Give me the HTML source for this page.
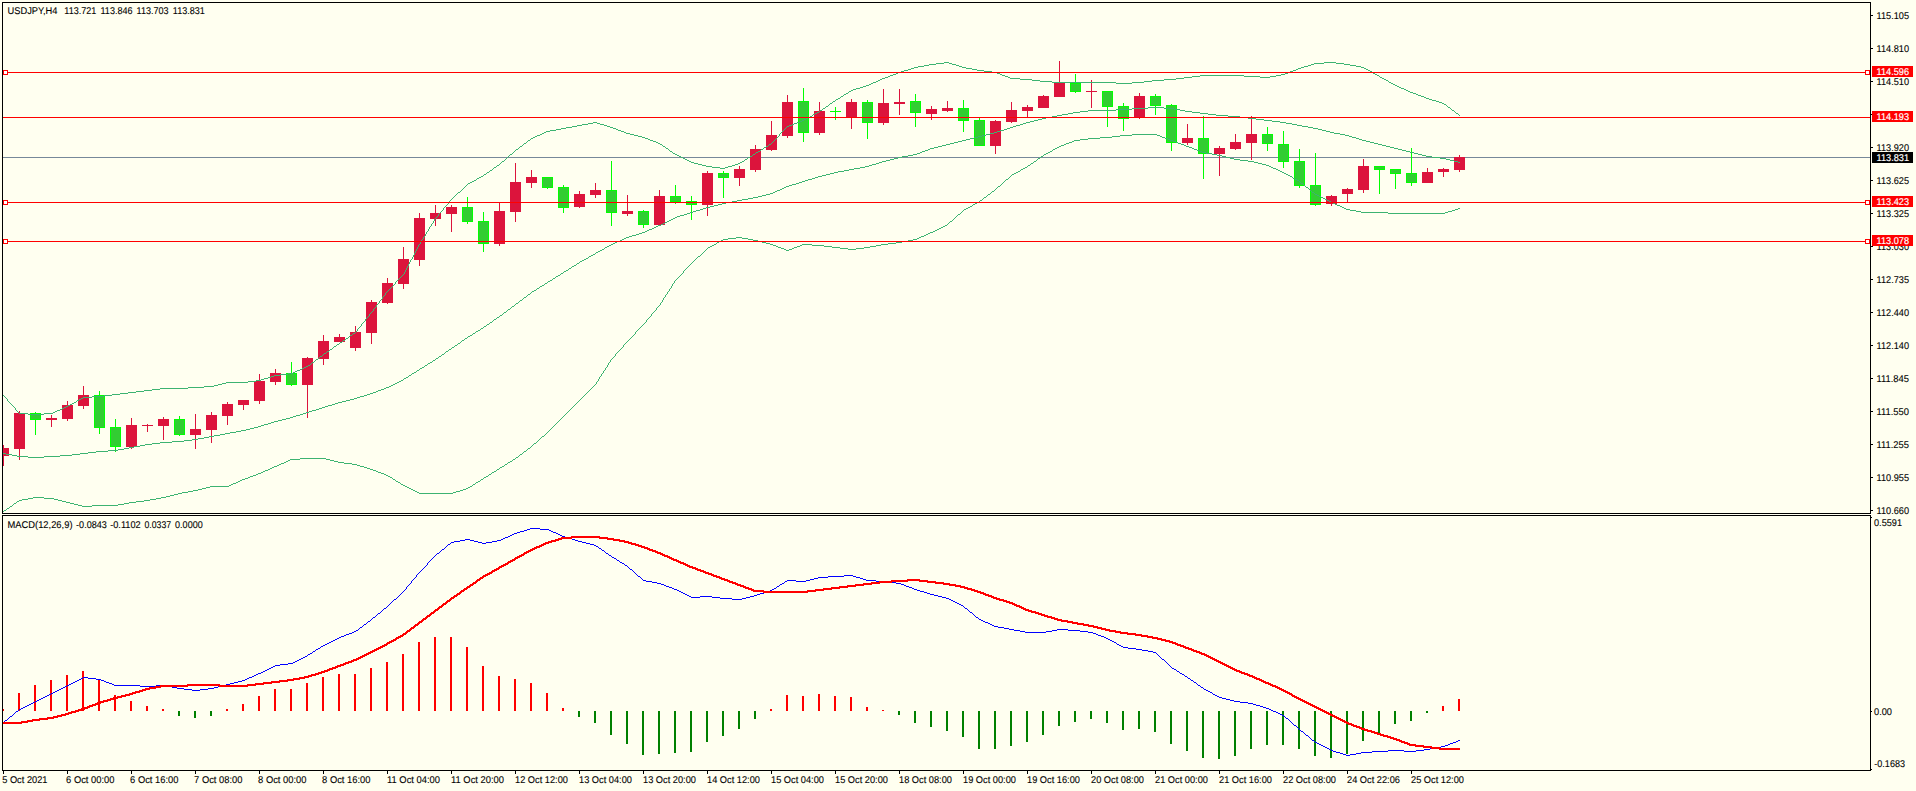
<!DOCTYPE html>
<html lang="en"><head><meta charset="utf-8"><title>USDJPY,H4</title>
<style>html,body{margin:0;padding:0;background:#FFFFF0;overflow:hidden}svg text{white-space:pre}</style></head>
<body>
<svg width="1916" height="791" viewBox="0 0 1916 791" style="display:block" font-family="'Liberation Sans', sans-serif" font-size="9.8" text-rendering="geometricPrecision">
<rect width="1916" height="791" fill="#FFFFF0"/>
<defs><clipPath id="cm"><rect x="3" y="3" width="1867" height="510"/></clipPath><clipPath id="cs"><rect x="3" y="516" width="1867" height="254"/></clipPath></defs>
<g clip-path="url(#cm)" shape-rendering="crispEdges">
<rect x="3" y="157" width="1867" height="1" fill="#778899"/>
<rect x="3" y="445" width="1" height="21" fill="#DC143C"/>
<rect x="-2" y="448" width="11" height="8" fill="#DC143C"/>
<rect x="19" y="411" width="1" height="49" fill="#DC143C"/>
<rect x="14" y="413" width="11" height="36" fill="#DC143C"/>
<rect x="35" y="412" width="1" height="23" fill="#00FF00"/>
<rect x="30" y="413" width="11" height="7" fill="#00FF00"/>
<rect x="31" y="414" width="9" height="5" fill="#32CD32"/>
<rect x="51" y="415" width="1" height="12" fill="#DC143C"/>
<rect x="46" y="418" width="11" height="2" fill="#DC143C"/>
<rect x="67" y="401" width="1" height="20" fill="#DC143C"/>
<rect x="62" y="405" width="11" height="14" fill="#DC143C"/>
<rect x="83" y="386" width="1" height="23" fill="#DC143C"/>
<rect x="78" y="395" width="11" height="11" fill="#DC143C"/>
<rect x="99" y="391" width="1" height="43" fill="#00FF00"/>
<rect x="94" y="395" width="11" height="33" fill="#00FF00"/>
<rect x="95" y="396" width="9" height="31" fill="#32CD32"/>
<rect x="115" y="419" width="1" height="33" fill="#00FF00"/>
<rect x="110" y="427" width="11" height="20" fill="#00FF00"/>
<rect x="111" y="428" width="9" height="18" fill="#32CD32"/>
<rect x="131" y="418" width="1" height="31" fill="#DC143C"/>
<rect x="126" y="425" width="11" height="22" fill="#DC143C"/>
<rect x="147" y="424" width="1" height="8" fill="#DC143C"/>
<rect x="142" y="425" width="11" height="1" fill="#DC143C"/>
<rect x="163" y="417" width="1" height="23" fill="#DC143C"/>
<rect x="158" y="419" width="11" height="7" fill="#DC143C"/>
<rect x="179" y="416" width="1" height="20" fill="#00FF00"/>
<rect x="174" y="419" width="11" height="16" fill="#00FF00"/>
<rect x="175" y="420" width="9" height="14" fill="#32CD32"/>
<rect x="195" y="414" width="1" height="35" fill="#DC143C"/>
<rect x="190" y="429" width="11" height="6" fill="#DC143C"/>
<rect x="211" y="412" width="1" height="31" fill="#DC143C"/>
<rect x="206" y="415" width="11" height="15" fill="#DC143C"/>
<rect x="227" y="402" width="1" height="23" fill="#DC143C"/>
<rect x="222" y="404" width="11" height="12" fill="#DC143C"/>
<rect x="243" y="400" width="1" height="10" fill="#DC143C"/>
<rect x="238" y="400" width="11" height="5" fill="#DC143C"/>
<rect x="259" y="374" width="1" height="30" fill="#DC143C"/>
<rect x="254" y="381" width="11" height="20" fill="#DC143C"/>
<rect x="275" y="369" width="1" height="16" fill="#DC143C"/>
<rect x="270" y="373" width="11" height="9" fill="#DC143C"/>
<rect x="291" y="362" width="1" height="24" fill="#00FF00"/>
<rect x="286" y="373" width="11" height="12" fill="#00FF00"/>
<rect x="287" y="374" width="9" height="10" fill="#32CD32"/>
<rect x="307" y="357" width="1" height="61" fill="#DC143C"/>
<rect x="302" y="358" width="11" height="27" fill="#DC143C"/>
<rect x="323" y="335" width="1" height="30" fill="#DC143C"/>
<rect x="318" y="341" width="11" height="18" fill="#DC143C"/>
<rect x="339" y="334" width="1" height="8" fill="#DC143C"/>
<rect x="334" y="337" width="11" height="5" fill="#DC143C"/>
<rect x="355" y="326" width="1" height="25" fill="#DC143C"/>
<rect x="350" y="332" width="11" height="16" fill="#DC143C"/>
<rect x="371" y="300" width="1" height="44" fill="#DC143C"/>
<rect x="366" y="302" width="11" height="31" fill="#DC143C"/>
<rect x="387" y="278" width="1" height="26" fill="#DC143C"/>
<rect x="382" y="283" width="11" height="20" fill="#DC143C"/>
<rect x="403" y="247" width="1" height="42" fill="#DC143C"/>
<rect x="398" y="259" width="11" height="25" fill="#DC143C"/>
<rect x="419" y="213" width="1" height="53" fill="#DC143C"/>
<rect x="414" y="218" width="11" height="42" fill="#DC143C"/>
<rect x="435" y="205" width="1" height="21" fill="#DC143C"/>
<rect x="430" y="213" width="11" height="6" fill="#DC143C"/>
<rect x="451" y="205" width="1" height="27" fill="#DC143C"/>
<rect x="446" y="207" width="11" height="7" fill="#DC143C"/>
<rect x="467" y="197" width="1" height="27" fill="#00FF00"/>
<rect x="462" y="207" width="11" height="15" fill="#00FF00"/>
<rect x="463" y="208" width="9" height="13" fill="#32CD32"/>
<rect x="483" y="212" width="1" height="40" fill="#00FF00"/>
<rect x="478" y="221" width="11" height="23" fill="#00FF00"/>
<rect x="479" y="222" width="9" height="21" fill="#32CD32"/>
<rect x="499" y="203" width="1" height="43" fill="#DC143C"/>
<rect x="494" y="211" width="11" height="33" fill="#DC143C"/>
<rect x="515" y="163" width="1" height="59" fill="#DC143C"/>
<rect x="510" y="182" width="11" height="30" fill="#DC143C"/>
<rect x="531" y="170" width="1" height="18" fill="#DC143C"/>
<rect x="526" y="177" width="11" height="6" fill="#DC143C"/>
<rect x="547" y="177" width="1" height="12" fill="#00FF00"/>
<rect x="542" y="177" width="11" height="11" fill="#00FF00"/>
<rect x="543" y="178" width="9" height="9" fill="#32CD32"/>
<rect x="563" y="185" width="1" height="28" fill="#00FF00"/>
<rect x="558" y="187" width="11" height="21" fill="#00FF00"/>
<rect x="559" y="188" width="9" height="19" fill="#32CD32"/>
<rect x="579" y="191" width="1" height="17" fill="#DC143C"/>
<rect x="574" y="194" width="11" height="13" fill="#DC143C"/>
<rect x="595" y="183" width="1" height="15" fill="#DC143C"/>
<rect x="590" y="190" width="11" height="5" fill="#DC143C"/>
<rect x="611" y="161" width="1" height="65" fill="#00FF00"/>
<rect x="606" y="190" width="11" height="23" fill="#00FF00"/>
<rect x="607" y="191" width="9" height="21" fill="#32CD32"/>
<rect x="627" y="195" width="1" height="21" fill="#DC143C"/>
<rect x="622" y="211" width="11" height="3" fill="#DC143C"/>
<rect x="643" y="210" width="1" height="18" fill="#00FF00"/>
<rect x="638" y="211" width="11" height="14" fill="#00FF00"/>
<rect x="639" y="212" width="9" height="12" fill="#32CD32"/>
<rect x="659" y="190" width="1" height="35" fill="#DC143C"/>
<rect x="654" y="196" width="11" height="29" fill="#DC143C"/>
<rect x="675" y="185" width="1" height="19" fill="#00FF00"/>
<rect x="670" y="196" width="11" height="6" fill="#00FF00"/>
<rect x="671" y="197" width="9" height="4" fill="#32CD32"/>
<rect x="691" y="196" width="1" height="24" fill="#00FF00"/>
<rect x="686" y="201" width="11" height="4" fill="#00FF00"/>
<rect x="687" y="202" width="9" height="2" fill="#32CD32"/>
<rect x="707" y="171" width="1" height="45" fill="#DC143C"/>
<rect x="702" y="173" width="11" height="32" fill="#DC143C"/>
<rect x="723" y="171" width="1" height="27" fill="#00FF00"/>
<rect x="718" y="173" width="11" height="5" fill="#00FF00"/>
<rect x="719" y="174" width="9" height="3" fill="#32CD32"/>
<rect x="739" y="166" width="1" height="20" fill="#DC143C"/>
<rect x="734" y="169" width="11" height="9" fill="#DC143C"/>
<rect x="755" y="145" width="1" height="27" fill="#DC143C"/>
<rect x="750" y="149" width="11" height="21" fill="#DC143C"/>
<rect x="771" y="121" width="1" height="30" fill="#DC143C"/>
<rect x="766" y="135" width="11" height="15" fill="#DC143C"/>
<rect x="787" y="95" width="1" height="43" fill="#DC143C"/>
<rect x="782" y="102" width="11" height="34" fill="#DC143C"/>
<rect x="803" y="88" width="1" height="54" fill="#00FF00"/>
<rect x="798" y="101" width="11" height="32" fill="#00FF00"/>
<rect x="799" y="102" width="9" height="30" fill="#32CD32"/>
<rect x="819" y="102" width="1" height="33" fill="#DC143C"/>
<rect x="814" y="111" width="11" height="22" fill="#DC143C"/>
<rect x="835" y="107" width="1" height="13" fill="#00FF00"/>
<rect x="830" y="111" width="11" height="1" fill="#00FF00"/>
<rect x="851" y="99" width="1" height="30" fill="#DC143C"/>
<rect x="846" y="102" width="11" height="16" fill="#DC143C"/>
<rect x="867" y="100" width="1" height="39" fill="#00FF00"/>
<rect x="862" y="102" width="11" height="21" fill="#00FF00"/>
<rect x="863" y="103" width="9" height="19" fill="#32CD32"/>
<rect x="883" y="89" width="1" height="36" fill="#DC143C"/>
<rect x="878" y="103" width="11" height="20" fill="#DC143C"/>
<rect x="899" y="89" width="1" height="26" fill="#DC143C"/>
<rect x="894" y="102" width="11" height="2" fill="#DC143C"/>
<rect x="915" y="94" width="1" height="33" fill="#00FF00"/>
<rect x="910" y="101" width="11" height="12" fill="#00FF00"/>
<rect x="911" y="102" width="9" height="10" fill="#32CD32"/>
<rect x="931" y="106" width="1" height="14" fill="#DC143C"/>
<rect x="926" y="109" width="11" height="5" fill="#DC143C"/>
<rect x="947" y="101" width="1" height="11" fill="#DC143C"/>
<rect x="942" y="108" width="11" height="3" fill="#DC143C"/>
<rect x="963" y="100" width="1" height="32" fill="#00FF00"/>
<rect x="958" y="108" width="11" height="13" fill="#00FF00"/>
<rect x="959" y="109" width="9" height="11" fill="#32CD32"/>
<rect x="979" y="118" width="1" height="28" fill="#00FF00"/>
<rect x="974" y="120" width="11" height="26" fill="#00FF00"/>
<rect x="975" y="121" width="9" height="24" fill="#32CD32"/>
<rect x="995" y="120" width="1" height="34" fill="#DC143C"/>
<rect x="990" y="121" width="11" height="25" fill="#DC143C"/>
<rect x="1011" y="102" width="1" height="21" fill="#DC143C"/>
<rect x="1006" y="110" width="11" height="12" fill="#DC143C"/>
<rect x="1027" y="105" width="1" height="12" fill="#DC143C"/>
<rect x="1022" y="107" width="11" height="4" fill="#DC143C"/>
<rect x="1043" y="95" width="1" height="13" fill="#DC143C"/>
<rect x="1038" y="96" width="11" height="12" fill="#DC143C"/>
<rect x="1059" y="61" width="1" height="36" fill="#DC143C"/>
<rect x="1054" y="83" width="11" height="14" fill="#DC143C"/>
<rect x="1075" y="74" width="1" height="19" fill="#00FF00"/>
<rect x="1070" y="83" width="11" height="9" fill="#00FF00"/>
<rect x="1071" y="84" width="9" height="7" fill="#32CD32"/>
<rect x="1091" y="80" width="1" height="28" fill="#DC143C"/>
<rect x="1086" y="91" width="11" height="1" fill="#DC143C"/>
<rect x="1107" y="91" width="1" height="36" fill="#00FF00"/>
<rect x="1102" y="91" width="11" height="16" fill="#00FF00"/>
<rect x="1103" y="92" width="9" height="14" fill="#32CD32"/>
<rect x="1123" y="103" width="1" height="28" fill="#00FF00"/>
<rect x="1118" y="106" width="11" height="13" fill="#00FF00"/>
<rect x="1119" y="107" width="9" height="11" fill="#32CD32"/>
<rect x="1139" y="93" width="1" height="26" fill="#DC143C"/>
<rect x="1134" y="96" width="11" height="22" fill="#DC143C"/>
<rect x="1155" y="94" width="1" height="21" fill="#00FF00"/>
<rect x="1150" y="96" width="11" height="10" fill="#00FF00"/>
<rect x="1151" y="97" width="9" height="8" fill="#32CD32"/>
<rect x="1171" y="104" width="1" height="47" fill="#00FF00"/>
<rect x="1166" y="105" width="11" height="38" fill="#00FF00"/>
<rect x="1167" y="106" width="9" height="36" fill="#32CD32"/>
<rect x="1187" y="124" width="1" height="21" fill="#DC143C"/>
<rect x="1182" y="138" width="11" height="5" fill="#DC143C"/>
<rect x="1203" y="116" width="1" height="63" fill="#00FF00"/>
<rect x="1198" y="138" width="11" height="16" fill="#00FF00"/>
<rect x="1199" y="139" width="9" height="14" fill="#32CD32"/>
<rect x="1219" y="146" width="1" height="30" fill="#DC143C"/>
<rect x="1214" y="148" width="11" height="6" fill="#DC143C"/>
<rect x="1235" y="134" width="1" height="16" fill="#DC143C"/>
<rect x="1230" y="142" width="11" height="7" fill="#DC143C"/>
<rect x="1251" y="116" width="1" height="44" fill="#DC143C"/>
<rect x="1246" y="134" width="11" height="9" fill="#DC143C"/>
<rect x="1267" y="127" width="1" height="24" fill="#00FF00"/>
<rect x="1262" y="134" width="11" height="10" fill="#00FF00"/>
<rect x="1263" y="135" width="9" height="8" fill="#32CD32"/>
<rect x="1283" y="131" width="1" height="37" fill="#00FF00"/>
<rect x="1278" y="144" width="11" height="18" fill="#00FF00"/>
<rect x="1279" y="145" width="9" height="16" fill="#32CD32"/>
<rect x="1299" y="149" width="1" height="39" fill="#00FF00"/>
<rect x="1294" y="161" width="11" height="25" fill="#00FF00"/>
<rect x="1295" y="162" width="9" height="23" fill="#32CD32"/>
<rect x="1315" y="153" width="1" height="53" fill="#00FF00"/>
<rect x="1310" y="185" width="11" height="20" fill="#00FF00"/>
<rect x="1311" y="186" width="9" height="18" fill="#32CD32"/>
<rect x="1331" y="195" width="1" height="11" fill="#DC143C"/>
<rect x="1326" y="196" width="11" height="8" fill="#DC143C"/>
<rect x="1347" y="188" width="1" height="15" fill="#DC143C"/>
<rect x="1342" y="189" width="11" height="5" fill="#DC143C"/>
<rect x="1363" y="159" width="1" height="34" fill="#DC143C"/>
<rect x="1358" y="166" width="11" height="24" fill="#DC143C"/>
<rect x="1379" y="166" width="1" height="28" fill="#00FF00"/>
<rect x="1374" y="166" width="11" height="4" fill="#00FF00"/>
<rect x="1375" y="167" width="9" height="2" fill="#32CD32"/>
<rect x="1395" y="169" width="1" height="20" fill="#00FF00"/>
<rect x="1390" y="169" width="11" height="5" fill="#00FF00"/>
<rect x="1391" y="170" width="9" height="3" fill="#32CD32"/>
<rect x="1411" y="148" width="1" height="38" fill="#00FF00"/>
<rect x="1406" y="173" width="11" height="10" fill="#00FF00"/>
<rect x="1407" y="174" width="9" height="8" fill="#32CD32"/>
<rect x="1427" y="168" width="1" height="15" fill="#DC143C"/>
<rect x="1422" y="172" width="11" height="11" fill="#DC143C"/>
<rect x="1443" y="168" width="1" height="9" fill="#DC143C"/>
<rect x="1438" y="169" width="11" height="3" fill="#DC143C"/>
<rect x="1459" y="155" width="1" height="17" fill="#DC143C"/>
<rect x="1454" y="157" width="11" height="13" fill="#DC143C"/>
<path d="M944 62.5h5M1324 62.5h12M936 63.5h8M949 63.5h3M1314 63.5h10M1336 63.5h8M929 64.5h7M952 64.5h4M1311 64.5h3M1344 64.5h6M924 65.5h5M956 65.5h3M1308 65.5h3M1350 65.5h6M918 66.5h6M959 66.5h3M1304 66.5h4M1356 66.5h5M914 67.5h4M962 67.5h4M1301 67.5h3M1361 67.5h3M911 68.5h3M966 68.5h6M1298 68.5h3M1364 68.5h2M908 69.5h3M972 69.5h5M1296 69.5h2M1366 69.5h2M904 70.5h4M977 70.5h7M1293 70.5h3M1368 70.5h2M901 71.5h3M984 71.5h8M1290 71.5h3M1370 71.5h2M898 72.5h3M992 72.5h5M1288 72.5h2M1372 72.5h1M896 73.5h2M997 73.5h3M1285 73.5h3M1373 73.5h2M893 74.5h3M1000 74.5h2M1281 74.5h4M1375 74.5h2M890 75.5h3M1002 75.5h3M1200 75.5h44M1276 75.5h5M1377 75.5h2M888 76.5h2M1005 76.5h3M1192 76.5h8M1244 76.5h16M1270 76.5h6M1379 76.5h1M885 77.5h3M1008 77.5h2M1184 77.5h8M1260 77.5h10M1380 77.5h2M882 78.5h3M1010 78.5h10M1176 78.5h8M1382 78.5h2M880 79.5h2M1020 79.5h12M1164 79.5h12M1384 79.5h2M878 80.5h2M1032 80.5h8M1152 80.5h12M1386 80.5h2M876 81.5h2M1040 81.5h12M1144 81.5h8M1388 81.5h1M873 82.5h3M1052 82.5h64M1132 82.5h12M1389 82.5h2M871 83.5h2M1116 83.5h16M1391 83.5h2M869 84.5h2M1393 84.5h2M866 85.5h3M1395 85.5h2M863 86.5h3M1397 86.5h2M860 87.5h3M1399 87.5h2M856 88.5h4M1401 88.5h3M853 89.5h3M1404 89.5h2M851 90.5h2M1406 90.5h2M849 91.5h2M1408 91.5h2M848 92.5h1M1410 92.5h3M846 93.5h2M1413 93.5h3M844 94.5h2M1416 94.5h2M843 95.5h1M1418 95.5h3M841 96.5h2M1421 96.5h3M840 97.5h1M1424 97.5h2M838 98.5h2M1426 98.5h3M836 99.5h2M1429 99.5h3M835 100.5h1M1432 100.5h4M833 101.5h2M1436 101.5h3M832 102.5h1M1439 102.5h3M830 103.5h2M1442 103.5h2M829 104.5h1M1444 104.5h2M828 105.5h1M1446 105.5h1M826 106.5h2M1447 106.5h1M825 107.5h1M1448 107.5h2M823 108.5h2M1450 108.5h1M822 109.5h1M1451 109.5h1M820 110.5h2M1452 110.5h2M819 111.5h1M1454 111.5h1M817 112.5h2M1455 112.5h1M815 113.5h2M1456 113.5h2M813 114.5h2M1458 114.5h1M812 115.5h1M1459 115.5h1M810 116.5h2M808 117.5h2M806 118.5h2M804 119.5h2M802 120.5h2M800 121.5h2M593 122.5h4M797 122.5h3M588 123.5h5M597 123.5h3M794 123.5h3M582 124.5h6M600 124.5h4M792 124.5h2M577 125.5h5M604 125.5h3M789 125.5h3M572 126.5h5M607 126.5h3M787 126.5h2M566 127.5h6M610 127.5h3M786 127.5h1M561 128.5h5M613 128.5h3M785 128.5h1M556 129.5h5M616 129.5h2M784 129.5h1M550 130.5h6M618 130.5h3M783 130.5h1M546 131.5h4M621 131.5h3M782 131.5h1M544 132.5h2M624 132.5h2M781 132.5h1M542 133.5h2M626 133.5h4M780 133.5h1M540 134.5h2M630 134.5h4M779 134.5h1M537 135.5h3M634 135.5h4M779 135.5h1M535 136.5h2M638 136.5h4M778 136.5h1M533 137.5h2M642 137.5h3M777 137.5h1M531 138.5h2M645 138.5h3M776 138.5h1M530 139.5h1M648 139.5h2M775 139.5h1M528 140.5h2M650 140.5h3M774 140.5h1M527 141.5h1M653 141.5h3M773 141.5h1M526 142.5h1M656 142.5h2M772 142.5h1M524 143.5h2M658 143.5h2M771 143.5h1M523 144.5h1M660 144.5h2M769 144.5h2M522 145.5h1M662 145.5h1M768 145.5h1M520 146.5h2M663 146.5h2M766 146.5h2M519 147.5h1M665 147.5h1M764 147.5h2M518 148.5h1M666 148.5h2M763 148.5h1M516 149.5h2M668 149.5h1M761 149.5h2M515 150.5h1M669 150.5h1M760 150.5h1M514 151.5h1M670 151.5h2M758 151.5h2M513 152.5h1M672 152.5h1M756 152.5h2M512 153.5h1M673 153.5h2M755 153.5h1M510 154.5h2M675 154.5h2M753 154.5h2M509 155.5h1M677 155.5h2M752 155.5h1M508 156.5h1M679 156.5h2M750 156.5h2M507 157.5h1M681 157.5h2M748 157.5h2M506 158.5h1M683 158.5h2M747 158.5h1M505 159.5h1M685 159.5h2M745 159.5h2M504 160.5h1M687 160.5h2M744 160.5h1M502 161.5h2M689 161.5h2M742 161.5h2M501 162.5h1M691 162.5h3M740 162.5h2M500 163.5h1M694 163.5h4M738 163.5h2M499 164.5h1M698 164.5h4M735 164.5h3M497 165.5h2M702 165.5h4M732 165.5h3M496 166.5h1M706 166.5h6M728 166.5h4M494 167.5h2M712 167.5h8M725 167.5h3M493 168.5h1M720 168.5h5M492 169.5h1M490 170.5h2M489 171.5h1M487 172.5h2M486 173.5h1M484 174.5h2M483 175.5h1M481 176.5h2M479 177.5h2M477 178.5h2M476 179.5h1M474 180.5h2M472 181.5h2M470 182.5h2M468 183.5h2M467 184.5h1M466 185.5h1M465 186.5h1M464 187.5h1M463 188.5h1M462 189.5h1M461 190.5h1M460 191.5h1M458 192.5h2M457 193.5h1M456 194.5h1M455 195.5h1M454 196.5h1M453 197.5h1M452 198.5h1M451 199.5h1M450 200.5h1M449 201.5h1M448 202.5h1M448 203.5h1M447 204.5h1M446 205.5h1M445 206.5h1M444 207.5h1M443 208.5h1M443 209.5h1M442 210.5h1M441 211.5h1M440 212.5h1M439 213.5h1M438 214.5h1M438 215.5h1M437 216.5h1M436 217.5h1M435 218.5h1M434 219.5h1M434 220.5h1M433 221.5h1M433 222.5h1M432 223.5h1M431 224.5h1M431 225.5h1M430 226.5h1M429 227.5h1M429 228.5h1M428 229.5h1M428 230.5h1M427 231.5h1M426 232.5h1M426 233.5h1M425 234.5h1M425 235.5h1M424 236.5h1M423 237.5h1M423 238.5h1M422 239.5h1M421 240.5h1M421 241.5h1M420 242.5h1M420 243.5h1M419 244.5h1M418 245.5h1M418 246.5h1M417 247.5h1M417 248.5h1M416 249.5h1M416 250.5h1M415 251.5h1M415 252.5h1M414 253.5h1M414 254.5h1M413 255.5h1M413 256.5h1M412 257.5h1M412 258.5h1M411 259.5h1M410 260.5h1M410 261.5h1M409 262.5h1M409 263.5h1M408 264.5h1M408 265.5h1M407 266.5h1M407 267.5h1M406 268.5h1M406 269.5h1M405 270.5h1M405 271.5h1M404 272.5h1M404 273.5h1M403 274.5h1M402 275.5h1M401 276.5h1M400 277.5h1M399 278.5h1M398 279.5h1M397 280.5h1M396 281.5h1M395 282.5h1M395 283.5h1M394 284.5h1M393 285.5h1M392 286.5h1M391 287.5h1M390 288.5h1M389 289.5h1M388 290.5h1M387 291.5h1M386 292.5h1M385 293.5h1M385 294.5h1M384 295.5h1M383 296.5h1M382 297.5h1M382 298.5h1M381 299.5h1M380 300.5h1M379 301.5h1M379 302.5h1M378 303.5h1M377 304.5h1M376 305.5h1M376 306.5h1M375 307.5h1M374 308.5h1M373 309.5h1M373 310.5h1M372 311.5h1M371 312.5h1M370 313.5h1M369 314.5h1M369 315.5h1M368 316.5h1M367 317.5h1M366 318.5h1M365 319.5h1M365 320.5h1M364 321.5h1M363 322.5h1M362 323.5h1M361 324.5h1M361 325.5h1M360 326.5h1M359 327.5h1M358 328.5h1M357 329.5h1M357 330.5h1M356 331.5h1M355 332.5h1M353 333.5h2M352 334.5h1M350 335.5h2M349 336.5h1M348 337.5h1M346 338.5h2M345 339.5h1M343 340.5h2M342 341.5h1M340 342.5h2M339 343.5h1M337 344.5h2M336 345.5h1M334 346.5h2M333 347.5h1M332 348.5h1M330 349.5h2M329 350.5h1M327 351.5h2M326 352.5h1M324 353.5h2M323 354.5h1M322 355.5h1M320 356.5h2M319 357.5h1M318 358.5h1M316 359.5h2M315 360.5h1M314 361.5h1M312 362.5h2M311 363.5h1M310 364.5h1M308 365.5h2M306 366.5h2M304 367.5h2M302 368.5h2M300 369.5h2M297 370.5h3M295 371.5h2M293 372.5h2M288 373.5h5M280 374.5h8M274 375.5h6M271 376.5h3M268 377.5h3M264 378.5h4M261 379.5h3M256 380.5h5M248 381.5h8M226 382.5h22M222 383.5h4M218 384.5h4M214 385.5h4M204 386.5h10M188 387.5h16M160 388.5h28M152 389.5h8M144 390.5h8M136 391.5h8M128 392.5h8M120 393.5h8M112 394.5h8M3 395.5h1M104 395.5h8M4 396.5h1M92 396.5h12M5 397.5h1M83 397.5h9M6 398.5h1M81 398.5h2M7 399.5h1M79 399.5h2M7 400.5h1M77 400.5h2M8 401.5h1M76 401.5h1M9 402.5h1M74 402.5h2M10 403.5h1M72 403.5h2M11 404.5h1M70 404.5h2M12 405.5h1M68 405.5h2M13 406.5h1M66 406.5h2M14 407.5h1M64 407.5h2M15 408.5h1M62 408.5h2M15 409.5h1M60 409.5h2M16 410.5h1M57 410.5h3M17 411.5h1M55 411.5h2M18 412.5h1M53 412.5h2M19 413.5h9M44 413.5h9M28 414.5h16" fill="none" stroke="#3CB371" stroke-width="1"/>
<path d="M1148 107.5h16M1132 108.5h16M1164 108.5h10M1116 109.5h16M1174 109.5h6M1088 110.5h28M1180 110.5h5M1080 111.5h8M1185 111.5h7M1073 112.5h7M1192 112.5h8M1068 113.5h5M1200 113.5h8M1062 114.5h6M1208 114.5h8M1057 115.5h5M1216 115.5h12M1052 116.5h5M1228 116.5h12M1046 117.5h6M1240 117.5h8M1042 118.5h4M1248 118.5h8M1038 119.5h4M1256 119.5h8M1034 120.5h4M1264 120.5h8M1030 121.5h4M1272 121.5h8M1026 122.5h4M1280 122.5h6M1023 123.5h3M1286 123.5h6M1020 124.5h3M1292 124.5h5M1016 125.5h4M1297 125.5h5M1013 126.5h3M1302 126.5h6M1010 127.5h3M1308 127.5h5M1007 128.5h3M1313 128.5h5M1004 129.5h3M1318 129.5h4M1000 130.5h4M1322 130.5h4M997 131.5h3M1326 131.5h4M994 132.5h3M1330 132.5h4M990 133.5h4M1334 133.5h6M986 134.5h4M1340 134.5h5M982 135.5h4M1345 135.5h4M978 136.5h4M1349 136.5h3M974 137.5h4M1352 137.5h4M970 138.5h4M1356 138.5h3M966 139.5h4M1359 139.5h3M962 140.5h4M1362 140.5h4M958 141.5h4M1366 141.5h4M954 142.5h4M1370 142.5h4M950 143.5h4M1374 143.5h4M946 144.5h4M1378 144.5h4M942 145.5h4M1382 145.5h4M938 146.5h4M1386 146.5h4M934 147.5h4M1390 147.5h4M930 148.5h4M1394 148.5h4M928 149.5h2M1398 149.5h4M925 150.5h3M1402 150.5h4M922 151.5h3M1406 151.5h4M920 152.5h2M1410 152.5h4M917 153.5h3M1414 153.5h4M913 154.5h4M1418 154.5h4M908 155.5h5M1422 155.5h4M902 156.5h6M1426 156.5h6M898 157.5h4M1432 157.5h8M894 158.5h4M1440 158.5h6M890 159.5h4M1446 159.5h4M886 160.5h4M1450 160.5h4M882 161.5h4M1454 161.5h4M879 162.5h3M1458 162.5h2M876 163.5h3M872 164.5h4M869 165.5h3M865 166.5h4M860 167.5h5M854 168.5h6M849 169.5h5M844 170.5h5M838 171.5h6M834 172.5h4M830 173.5h4M826 174.5h4M822 175.5h4M818 176.5h4M815 177.5h3M812 178.5h3M808 179.5h4M805 180.5h3M802 181.5h3M799 182.5h3M796 183.5h3M792 184.5h4M789 185.5h3M786 186.5h3M784 187.5h2M782 188.5h2M780 189.5h2M777 190.5h3M775 191.5h2M773 192.5h2M770 193.5h3M766 194.5h4M762 195.5h4M758 196.5h4M753 197.5h5M748 198.5h5M742 199.5h6M737 200.5h5M732 201.5h5M726 202.5h6M722 203.5h4M718 204.5h4M714 205.5h4M710 206.5h4M706 207.5h4M703 208.5h3M700 209.5h3M696 210.5h4M693 211.5h3M690 212.5h3M687 213.5h3M684 214.5h3M680 215.5h4M677 216.5h3M675 217.5h2M673 218.5h2M671 219.5h2M669 220.5h2M667 221.5h2M665 222.5h2M663 223.5h2M661 224.5h2M658 225.5h3M656 226.5h2M654 227.5h2M652 228.5h2M649 229.5h3M647 230.5h2M645 231.5h2M642 232.5h3M639 233.5h3M636 234.5h3M632 235.5h4M629 236.5h3M626 237.5h3M624 238.5h2M622 239.5h2M620 240.5h2M617 241.5h3M615 242.5h2M613 243.5h2M611 244.5h2M609 245.5h2M607 246.5h2M605 247.5h2M604 248.5h1M602 249.5h2M600 250.5h2M598 251.5h2M596 252.5h2M595 253.5h1M593 254.5h2M591 255.5h2M589 256.5h2M588 257.5h1M586 258.5h2M584 259.5h2M582 260.5h2M580 261.5h2M579 262.5h1M577 263.5h2M576 264.5h1M574 265.5h2M572 266.5h2M571 267.5h1M569 268.5h2M568 269.5h1M566 270.5h2M564 271.5h2M563 272.5h1M561 273.5h2M560 274.5h1M558 275.5h2M556 276.5h2M555 277.5h1M553 278.5h2M552 279.5h1M550 280.5h2M548 281.5h2M547 282.5h1M545 283.5h2M544 284.5h1M542 285.5h2M540 286.5h2M539 287.5h1M537 288.5h2M536 289.5h1M534 290.5h2M532 291.5h2M531 292.5h1M530 293.5h1M528 294.5h2M527 295.5h1M526 296.5h1M524 297.5h2M523 298.5h1M522 299.5h1M520 300.5h2M519 301.5h1M518 302.5h1M516 303.5h2M515 304.5h1M514 305.5h1M512 306.5h2M511 307.5h1M510 308.5h1M508 309.5h2M507 310.5h1M506 311.5h1M504 312.5h2M503 313.5h1M502 314.5h1M500 315.5h2M499 316.5h1M497 317.5h2M496 318.5h1M494 319.5h2M493 320.5h1M492 321.5h1M490 322.5h2M489 323.5h1M487 324.5h2M486 325.5h1M484 326.5h2M483 327.5h1M481 328.5h2M480 329.5h1M478 330.5h2M476 331.5h2M475 332.5h1M473 333.5h2M472 334.5h1M470 335.5h2M468 336.5h2M467 337.5h1M465 338.5h2M464 339.5h1M462 340.5h2M461 341.5h1M460 342.5h1M458 343.5h2M457 344.5h1M455 345.5h2M454 346.5h1M452 347.5h2M451 348.5h1M449 349.5h2M448 350.5h1M446 351.5h2M445 352.5h1M444 353.5h1M442 354.5h2M441 355.5h1M439 356.5h2M438 357.5h1M436 358.5h2M435 359.5h1M433 360.5h2M432 361.5h1M430 362.5h2M428 363.5h2M427 364.5h1M425 365.5h2M424 366.5h1M422 367.5h2M420 368.5h2M419 369.5h1M417 370.5h2M416 371.5h1M414 372.5h2M412 373.5h2M411 374.5h1M409 375.5h2M408 376.5h1M406 377.5h2M404 378.5h2M403 379.5h1M401 380.5h2M399 381.5h2M397 382.5h2M395 383.5h2M393 384.5h2M391 385.5h2M389 386.5h2M386 387.5h3M384 388.5h2M381 389.5h3M378 390.5h3M376 391.5h2M373 392.5h3M370 393.5h3M367 394.5h3M364 395.5h3M360 396.5h4M357 397.5h3M354 398.5h3M350 399.5h4M346 400.5h4M342 401.5h4M338 402.5h4M335 403.5h3M332 404.5h3M328 405.5h4M325 406.5h3M322 407.5h3M319 408.5h3M316 409.5h3M312 410.5h4M309 411.5h3M306 412.5h3M303 413.5h3M300 414.5h3M296 415.5h4M293 416.5h3M290 417.5h3M286 418.5h4M282 419.5h4M278 420.5h4M274 421.5h4M271 422.5h3M268 423.5h3M264 424.5h4M261 425.5h3M258 426.5h3M254 427.5h4M250 428.5h4M246 429.5h4M241 430.5h5M236 431.5h5M230 432.5h6M225 433.5h5M220 434.5h5M214 435.5h6M209 436.5h5M204 437.5h5M198 438.5h6M192 439.5h6M184 440.5h8M172 441.5h12M160 442.5h12M152 443.5h8M145 444.5h7M140 445.5h5M134 446.5h6M129 447.5h5M124 448.5h5M118 449.5h6M108 450.5h10M96 451.5h12M88 452.5h8M3 453.5h3M80 453.5h8M6 454.5h6M72 454.5h8M12 455.5h5M60 455.5h12M17 456.5h11M44 456.5h16M28 457.5h16" fill="none" stroke="#3CB371" stroke-width="1"/>
<path d="M1132 134.5h25M1120 135.5h12M1157 135.5h3M1112 136.5h8M1160 136.5h2M1100 137.5h12M1162 137.5h3M1088 138.5h12M1165 138.5h3M1080 139.5h8M1168 139.5h2M1074 140.5h6M1170 140.5h3M1072 141.5h2M1173 141.5h3M1069 142.5h3M1176 142.5h2M1066 143.5h3M1178 143.5h3M1064 144.5h2M1181 144.5h3M1061 145.5h3M1184 145.5h2M1059 146.5h2M1186 146.5h3M1057 147.5h2M1189 147.5h3M1055 148.5h2M1192 148.5h2M1053 149.5h2M1194 149.5h3M1052 150.5h1M1197 150.5h3M1050 151.5h2M1200 151.5h2M1048 152.5h2M1202 152.5h4M1046 153.5h2M1206 153.5h6M1044 154.5h2M1212 154.5h5M1043 155.5h1M1217 155.5h5M1041 156.5h2M1222 156.5h4M1040 157.5h1M1226 157.5h4M1038 158.5h2M1230 158.5h4M1037 159.5h1M1234 159.5h6M1036 160.5h1M1240 160.5h8M1034 161.5h2M1248 161.5h6M1033 162.5h1M1254 162.5h4M1031 163.5h2M1258 163.5h4M1030 164.5h1M1262 164.5h4M1028 165.5h2M1266 165.5h3M1027 166.5h1M1269 166.5h2M1025 167.5h2M1271 167.5h2M1023 168.5h2M1273 168.5h3M1021 169.5h2M1276 169.5h2M1020 170.5h1M1278 170.5h2M1018 171.5h2M1280 171.5h2M1016 172.5h2M1282 172.5h2M1014 173.5h2M1284 173.5h2M1012 174.5h2M1286 174.5h2M1011 175.5h1M1288 175.5h2M1010 176.5h1M1290 176.5h2M1009 177.5h1M1292 177.5h1M1008 178.5h1M1293 178.5h2M1006 179.5h2M1295 179.5h2M1005 180.5h1M1297 180.5h2M1004 181.5h1M1299 181.5h1M1003 182.5h1M1300 182.5h1M1002 183.5h1M1301 183.5h2M1001 184.5h1M1303 184.5h1M1000 185.5h1M1304 185.5h1M998 186.5h2M1305 186.5h1M997 187.5h1M1306 187.5h2M996 188.5h1M1308 188.5h1M995 189.5h1M1309 189.5h1M994 190.5h1M1310 190.5h1M992 191.5h2M1311 191.5h1M991 192.5h1M1312 192.5h2M990 193.5h1M1314 193.5h1M988 194.5h2M1315 194.5h2M987 195.5h1M1317 195.5h2M986 196.5h1M1319 196.5h2M984 197.5h2M1321 197.5h2M983 198.5h1M1323 198.5h2M982 199.5h1M1325 199.5h2M980 200.5h2M1327 200.5h2M979 201.5h1M1329 201.5h2M977 202.5h2M1331 202.5h2M975 203.5h2M1333 203.5h2M973 204.5h2M1335 204.5h2M972 205.5h1M1337 205.5h3M970 206.5h2M1340 206.5h2M968 207.5h2M1342 207.5h2M966 208.5h2M1344 208.5h2M1458 208.5h2M964 209.5h2M1346 209.5h4M1455 209.5h3M963 210.5h1M1350 210.5h6M1452 210.5h3M962 211.5h1M1356 211.5h5M1448 211.5h4M961 212.5h1M1361 212.5h27M1445 212.5h3M960 213.5h1M1388 213.5h57M958 214.5h2M957 215.5h1M956 216.5h1M955 217.5h1M954 218.5h1M953 219.5h1M952 220.5h1M950 221.5h2M949 222.5h1M948 223.5h1M947 224.5h1M945 225.5h2M943 226.5h2M941 227.5h2M939 228.5h2M937 229.5h2M935 230.5h2M933 231.5h2M930 232.5h3M928 233.5h2M926 234.5h2M924 235.5h2M921 236.5h3M736 237.5h6M919 237.5h2M728 238.5h8M742 238.5h6M917 238.5h2M723 239.5h5M748 239.5h5M913 239.5h4M721 240.5h2M753 240.5h5M908 240.5h5M719 241.5h2M758 241.5h4M902 241.5h6M717 242.5h2M762 242.5h4M896 242.5h6M716 243.5h1M766 243.5h4M888 243.5h8M714 244.5h2M770 244.5h3M802 244.5h10M881 244.5h7M712 245.5h2M773 245.5h3M800 245.5h2M812 245.5h12M876 245.5h5M710 246.5h2M776 246.5h2M797 246.5h3M824 246.5h8M870 246.5h6M708 247.5h2M778 247.5h3M794 247.5h3M832 247.5h8M864 247.5h6M707 248.5h1M781 248.5h3M792 248.5h2M840 248.5h8M856 248.5h8M706 249.5h1M784 249.5h2M789 249.5h3M848 249.5h8M705 250.5h1M786 250.5h3M704 251.5h1M703 252.5h1M702 253.5h1M701 254.5h1M700 255.5h1M698 256.5h2M697 257.5h1M696 258.5h1M695 259.5h1M694 260.5h1M693 261.5h1M692 262.5h1M691 263.5h1M690 264.5h1M689 265.5h1M688 266.5h1M687 267.5h1M686 268.5h1M685 269.5h1M684 270.5h1M683 271.5h1M683 272.5h1M682 273.5h1M681 274.5h1M680 275.5h1M679 276.5h1M678 277.5h1M677 278.5h1M676 279.5h1M675 280.5h1M674 281.5h1M674 282.5h1M673 283.5h1M672 284.5h1M672 285.5h1M671 286.5h1M671 287.5h1M670 288.5h1M669 289.5h1M669 290.5h1M668 291.5h1M667 292.5h1M667 293.5h1M666 294.5h1M665 295.5h1M665 296.5h1M664 297.5h1M663 298.5h1M663 299.5h1M662 300.5h1M662 301.5h1M661 302.5h1M660 303.5h1M660 304.5h1M659 305.5h1M658 306.5h1M657 307.5h1M656 308.5h1M656 309.5h1M655 310.5h1M654 311.5h1M653 312.5h1M652 313.5h1M651 314.5h1M651 315.5h1M650 316.5h1M649 317.5h1M648 318.5h1M647 319.5h1M646 320.5h1M646 321.5h1M645 322.5h1M644 323.5h1M643 324.5h1M642 325.5h1M641 326.5h1M640 327.5h1M639 328.5h1M638 329.5h1M637 330.5h1M636 331.5h1M635 332.5h1M635 333.5h1M634 334.5h1M633 335.5h1M632 336.5h1M631 337.5h1M630 338.5h1M629 339.5h1M628 340.5h1M627 341.5h1M626 342.5h1M625 343.5h1M624 344.5h1M623 345.5h1M623 346.5h1M622 347.5h1M621 348.5h1M620 349.5h1M619 350.5h1M618 351.5h1M617 352.5h1M616 353.5h1M615 354.5h1M615 355.5h1M614 356.5h1M613 357.5h1M612 358.5h1M611 359.5h1M610 360.5h1M610 361.5h1M609 362.5h1M608 363.5h1M608 364.5h1M607 365.5h1M607 366.5h1M606 367.5h1M605 368.5h1M605 369.5h1M604 370.5h1M603 371.5h1M603 372.5h1M602 373.5h1M601 374.5h1M601 375.5h1M600 376.5h1M599 377.5h1M599 378.5h1M598 379.5h1M598 380.5h1M597 381.5h1M596 382.5h1M596 383.5h1M595 384.5h1M594 385.5h1M593 386.5h1M592 387.5h1M591 388.5h1M590 389.5h1M589 390.5h1M588 391.5h1M587 392.5h1M586 393.5h1M585 394.5h1M584 395.5h1M583 396.5h1M582 397.5h1M581 398.5h1M580 399.5h1M579 400.5h1M578 401.5h1M577 402.5h1M576 403.5h1M575 404.5h1M574 405.5h1M573 406.5h1M572 407.5h1M571 408.5h1M570 409.5h1M569 410.5h1M568 411.5h1M567 412.5h1M566 413.5h1M565 414.5h1M564 415.5h1M563 416.5h1M562 417.5h1M561 418.5h1M560 419.5h1M559 420.5h1M558 421.5h1M557 422.5h1M556 423.5h1M555 424.5h1M554 425.5h1M553 426.5h1M552 427.5h1M551 428.5h1M550 429.5h1M549 430.5h1M548 431.5h1M547 432.5h1M546 433.5h1M545 434.5h1M544 435.5h1M542 436.5h2M541 437.5h1M540 438.5h1M539 439.5h1M538 440.5h1M537 441.5h1M536 442.5h1M534 443.5h2M533 444.5h1M532 445.5h1M531 446.5h1M530 447.5h1M528 448.5h2M527 449.5h1M526 450.5h1M524 451.5h2M523 452.5h1M522 453.5h1M520 454.5h2M519 455.5h1M518 456.5h1M516 457.5h2M300 458.5h26M515 458.5h1M290 459.5h10M326 459.5h4M513 459.5h2M288 460.5h2M330 460.5h4M512 460.5h1M286 461.5h2M334 461.5h4M510 461.5h2M284 462.5h2M338 462.5h6M508 462.5h2M281 463.5h3M344 463.5h8M507 463.5h1M279 464.5h2M352 464.5h5M505 464.5h2M277 465.5h2M357 465.5h3M504 465.5h1M274 466.5h3M360 466.5h4M502 466.5h2M272 467.5h2M364 467.5h3M500 467.5h2M270 468.5h2M367 468.5h3M499 468.5h1M268 469.5h2M370 469.5h3M497 469.5h2M265 470.5h3M373 470.5h3M496 470.5h1M263 471.5h2M376 471.5h2M494 471.5h2M261 472.5h2M378 472.5h3M492 472.5h2M258 473.5h3M381 473.5h3M491 473.5h1M256 474.5h2M384 474.5h2M489 474.5h2M253 475.5h3M386 475.5h2M488 475.5h1M250 476.5h3M388 476.5h2M486 476.5h2M248 477.5h2M390 477.5h2M484 477.5h2M245 478.5h3M392 478.5h1M483 478.5h1M242 479.5h3M393 479.5h2M481 479.5h2M240 480.5h2M395 480.5h1M480 480.5h1M238 481.5h2M396 481.5h2M478 481.5h2M236 482.5h2M398 482.5h2M476 482.5h2M233 483.5h3M400 483.5h1M475 483.5h1M231 484.5h2M401 484.5h2M473 484.5h2M229 485.5h2M403 485.5h2M472 485.5h1M210 486.5h19M405 486.5h2M470 486.5h2M206 487.5h4M407 487.5h2M468 487.5h2M202 488.5h4M409 488.5h2M466 488.5h2M198 489.5h4M411 489.5h2M463 489.5h3M193 490.5h5M413 490.5h2M460 490.5h3M188 491.5h5M415 491.5h2M456 491.5h4M182 492.5h6M417 492.5h2M453 492.5h3M178 493.5h4M419 493.5h34M174 494.5h4M170 495.5h4M166 496.5h4M33 497.5h11M161 497.5h5M28 498.5h5M44 498.5h10M156 498.5h5M22 499.5h6M54 499.5h4M150 499.5h6M19 500.5h3M58 500.5h4M144 500.5h6M17 501.5h2M62 501.5h4M136 501.5h8M16 502.5h1M66 502.5h4M129 502.5h7M14 503.5h2M70 503.5h4M124 503.5h5M13 504.5h1M74 504.5h4M118 504.5h6M12 505.5h1M78 505.5h4M92 505.5h26M10 506.5h2M82 506.5h10M9 507.5h1M7 508.5h2M6 509.5h1M4 510.5h2M3 511.5h1" fill="none" stroke="#3CB371" stroke-width="1"/>
<rect x="3" y="72" width="1867" height="1" fill="#FF0000"/>
<rect x="3.5" y="70.5" width="4" height="4" fill="#FFFFFF" stroke="#FF0000" stroke-width="1"/>
<rect x="1865.5" y="70.5" width="4" height="4" fill="#FFFFFF" stroke="#FF0000" stroke-width="1"/>
<rect x="3" y="117" width="1867" height="1" fill="#FF0000"/>
<rect x="3" y="202" width="1867" height="1" fill="#FF0000"/>
<rect x="3.5" y="200.5" width="4" height="4" fill="#FFFFFF" stroke="#FF0000" stroke-width="1"/>
<rect x="1865.5" y="200.5" width="4" height="4" fill="#FFFFFF" stroke="#FF0000" stroke-width="1"/>
<rect x="3" y="241" width="1867" height="1" fill="#FF0000"/>
<rect x="3.5" y="239.5" width="4" height="4" fill="#FFFFFF" stroke="#FF0000" stroke-width="1"/>
<rect x="1865.5" y="239.5" width="4" height="4" fill="#FFFFFF" stroke="#FF0000" stroke-width="1"/>
</g>
<g clip-path="url(#cs)" shape-rendering="crispEdges">
<rect x="2" y="709" width="2" height="2" fill="#FF0000"/>
<rect x="18" y="693" width="2" height="18" fill="#FF0000"/>
<rect x="34" y="685" width="2" height="26" fill="#FF0000"/>
<rect x="50" y="680" width="2" height="31" fill="#FF0000"/>
<rect x="66" y="675" width="2" height="36" fill="#FF0000"/>
<rect x="82" y="671" width="2" height="40" fill="#FF0000"/>
<rect x="98" y="680" width="2" height="31" fill="#FF0000"/>
<rect x="114" y="695" width="2" height="16" fill="#FF0000"/>
<rect x="130" y="701" width="2" height="10" fill="#FF0000"/>
<rect x="146" y="706" width="2" height="5" fill="#FF0000"/>
<rect x="162" y="709" width="2" height="2" fill="#FF0000"/>
<rect x="178" y="711" width="2" height="5" fill="#008000"/>
<rect x="194" y="711" width="2" height="7" fill="#008000"/>
<rect x="210" y="711" width="2" height="5" fill="#008000"/>
<rect x="226" y="709" width="2" height="2" fill="#FF0000"/>
<rect x="242" y="704" width="2" height="7" fill="#FF0000"/>
<rect x="258" y="696" width="2" height="15" fill="#FF0000"/>
<rect x="274" y="689" width="2" height="22" fill="#FF0000"/>
<rect x="290" y="689" width="2" height="22" fill="#FF0000"/>
<rect x="306" y="683" width="2" height="28" fill="#FF0000"/>
<rect x="322" y="677" width="2" height="34" fill="#FF0000"/>
<rect x="338" y="674" width="2" height="37" fill="#FF0000"/>
<rect x="354" y="674" width="2" height="37" fill="#FF0000"/>
<rect x="370" y="668" width="2" height="43" fill="#FF0000"/>
<rect x="386" y="662" width="2" height="49" fill="#FF0000"/>
<rect x="402" y="654" width="2" height="57" fill="#FF0000"/>
<rect x="418" y="642" width="2" height="69" fill="#FF0000"/>
<rect x="434" y="637" width="2" height="74" fill="#FF0000"/>
<rect x="450" y="637" width="2" height="74" fill="#FF0000"/>
<rect x="466" y="647" width="2" height="64" fill="#FF0000"/>
<rect x="482" y="666" width="2" height="45" fill="#FF0000"/>
<rect x="498" y="676" width="2" height="35" fill="#FF0000"/>
<rect x="514" y="679" width="2" height="32" fill="#FF0000"/>
<rect x="530" y="683" width="2" height="28" fill="#FF0000"/>
<rect x="546" y="693" width="2" height="18" fill="#FF0000"/>
<rect x="562" y="708" width="2" height="3" fill="#FF0000"/>
<rect x="578" y="711" width="2" height="6" fill="#008000"/>
<rect x="594" y="711" width="2" height="12" fill="#008000"/>
<rect x="610" y="711" width="2" height="24" fill="#008000"/>
<rect x="626" y="711" width="2" height="33" fill="#008000"/>
<rect x="642" y="711" width="2" height="44" fill="#008000"/>
<rect x="658" y="711" width="2" height="43" fill="#008000"/>
<rect x="674" y="711" width="2" height="42" fill="#008000"/>
<rect x="690" y="711" width="2" height="41" fill="#008000"/>
<rect x="706" y="711" width="2" height="31" fill="#008000"/>
<rect x="722" y="711" width="2" height="25" fill="#008000"/>
<rect x="738" y="711" width="2" height="18" fill="#008000"/>
<rect x="754" y="711" width="2" height="8" fill="#008000"/>
<rect x="770" y="709" width="2" height="2" fill="#FF0000"/>
<rect x="786" y="695" width="2" height="16" fill="#FF0000"/>
<rect x="802" y="696" width="2" height="15" fill="#FF0000"/>
<rect x="818" y="694" width="2" height="17" fill="#FF0000"/>
<rect x="834" y="696" width="2" height="15" fill="#FF0000"/>
<rect x="850" y="697" width="2" height="14" fill="#FF0000"/>
<rect x="866" y="707" width="2" height="4" fill="#FF0000"/>
<rect x="882" y="710" width="2" height="1" fill="#FF0000"/>
<rect x="898" y="711" width="2" height="4" fill="#008000"/>
<rect x="914" y="711" width="2" height="12" fill="#008000"/>
<rect x="930" y="711" width="2" height="16" fill="#008000"/>
<rect x="946" y="711" width="2" height="20" fill="#008000"/>
<rect x="962" y="711" width="2" height="26" fill="#008000"/>
<rect x="978" y="711" width="2" height="38" fill="#008000"/>
<rect x="994" y="711" width="2" height="38" fill="#008000"/>
<rect x="1010" y="711" width="2" height="35" fill="#008000"/>
<rect x="1026" y="711" width="2" height="31" fill="#008000"/>
<rect x="1042" y="711" width="2" height="24" fill="#008000"/>
<rect x="1058" y="711" width="2" height="15" fill="#008000"/>
<rect x="1074" y="711" width="2" height="11" fill="#008000"/>
<rect x="1090" y="711" width="2" height="8" fill="#008000"/>
<rect x="1106" y="711" width="2" height="12" fill="#008000"/>
<rect x="1122" y="711" width="2" height="19" fill="#008000"/>
<rect x="1138" y="711" width="2" height="18" fill="#008000"/>
<rect x="1154" y="711" width="2" height="21" fill="#008000"/>
<rect x="1170" y="711" width="2" height="33" fill="#008000"/>
<rect x="1186" y="711" width="2" height="40" fill="#008000"/>
<rect x="1202" y="711" width="2" height="47" fill="#008000"/>
<rect x="1218" y="711" width="2" height="48" fill="#008000"/>
<rect x="1234" y="711" width="2" height="45" fill="#008000"/>
<rect x="1250" y="711" width="2" height="38" fill="#008000"/>
<rect x="1266" y="711" width="2" height="34" fill="#008000"/>
<rect x="1282" y="711" width="2" height="34" fill="#008000"/>
<rect x="1298" y="711" width="2" height="38" fill="#008000"/>
<rect x="1314" y="711" width="2" height="45" fill="#008000"/>
<rect x="1330" y="711" width="2" height="47" fill="#008000"/>
<rect x="1346" y="711" width="2" height="43" fill="#008000"/>
<rect x="1362" y="711" width="2" height="30" fill="#008000"/>
<rect x="1378" y="711" width="2" height="22" fill="#008000"/>
<rect x="1394" y="711" width="2" height="13" fill="#008000"/>
<rect x="1410" y="711" width="2" height="10" fill="#008000"/>
<rect x="1426" y="711" width="2" height="2" fill="#008000"/>
<rect x="1442" y="706" width="2" height="5" fill="#FF0000"/>
<rect x="1458" y="699" width="2" height="12" fill="#FF0000"/>
<path d="M530 528.5h10M527 529.5h3M540 529.5h9M524 530.5h3M549 530.5h2M520 531.5h4M551 531.5h2M517 532.5h3M553 532.5h3M514 533.5h3M556 533.5h2M512 534.5h2M558 534.5h2M510 535.5h2M560 535.5h2M508 536.5h2M562 536.5h3M505 537.5h3M565 537.5h3M503 538.5h2M568 538.5h4M465 539.5h5M501 539.5h2M572 539.5h3M460 540.5h5M470 540.5h4M497 540.5h4M575 540.5h3M454 541.5h6M474 541.5h4M492 541.5h5M578 541.5h4M451 542.5h3M478 542.5h4M486 542.5h6M582 542.5h4M450 543.5h1M482 543.5h4M586 543.5h4M448 544.5h2M590 544.5h4M447 545.5h1M594 545.5h2M446 546.5h1M596 546.5h2M445 547.5h1M598 547.5h1M444 548.5h1M599 548.5h2M442 549.5h2M601 549.5h1M441 550.5h1M602 550.5h2M440 551.5h1M604 551.5h1M439 552.5h1M605 552.5h1M437 553.5h2M606 553.5h2M436 554.5h1M608 554.5h1M435 555.5h1M609 555.5h2M434 556.5h1M611 556.5h1M433 557.5h1M612 557.5h2M432 558.5h1M614 558.5h2M431 559.5h1M616 559.5h1M430 560.5h1M617 560.5h2M429 561.5h1M619 561.5h1M428 562.5h1M620 562.5h2M427 563.5h1M622 563.5h2M427 564.5h1M624 564.5h1M426 565.5h1M625 565.5h2M425 566.5h1M627 566.5h1M424 567.5h1M628 567.5h1M423 568.5h1M629 568.5h1M422 569.5h1M630 569.5h2M421 570.5h1M632 570.5h1M420 571.5h1M633 571.5h1M419 572.5h1M634 572.5h1M418 573.5h1M635 573.5h1M417 574.5h1M636 574.5h1M416 575.5h1M637 575.5h1M844 575.5h9M416 576.5h1M638 576.5h2M828 576.5h16M853 576.5h3M415 577.5h1M640 577.5h1M818 577.5h10M856 577.5h4M414 578.5h1M641 578.5h1M814 578.5h4M860 578.5h3M413 579.5h1M642 579.5h1M810 579.5h4M863 579.5h3M412 580.5h1M643 580.5h3M787 580.5h9M806 580.5h4M866 580.5h10M411 581.5h1M646 581.5h6M785 581.5h2M796 581.5h10M876 581.5h12M411 582.5h1M652 582.5h5M784 582.5h1M888 582.5h8M410 583.5h1M657 583.5h4M782 583.5h2M896 583.5h5M409 584.5h1M661 584.5h3M780 584.5h2M901 584.5h3M408 585.5h1M664 585.5h2M779 585.5h1M904 585.5h2M407 586.5h1M666 586.5h3M777 586.5h2M906 586.5h3M406 587.5h1M669 587.5h3M776 587.5h1M909 587.5h3M406 588.5h1M672 588.5h2M774 588.5h2M912 588.5h2M405 589.5h1M674 589.5h3M772 589.5h2M914 589.5h3M404 590.5h1M677 590.5h2M770 590.5h2M917 590.5h3M403 591.5h1M679 591.5h2M767 591.5h3M920 591.5h4M402 592.5h1M681 592.5h2M764 592.5h3M924 592.5h3M401 593.5h1M683 593.5h2M760 593.5h4M927 593.5h3M400 594.5h1M685 594.5h2M757 594.5h3M930 594.5h4M399 595.5h1M687 595.5h2M754 595.5h3M934 595.5h4M398 596.5h1M689 596.5h2M700 596.5h12M750 596.5h4M938 596.5h4M397 597.5h1M691 597.5h9M712 597.5h8M746 597.5h4M942 597.5h4M396 598.5h1M720 598.5h12M742 598.5h4M946 598.5h3M394 599.5h2M732 599.5h10M949 599.5h2M393 600.5h1M951 600.5h2M392 601.5h1M953 601.5h2M391 602.5h1M955 602.5h2M390 603.5h1M957 603.5h2M389 604.5h1M959 604.5h2M388 605.5h1M961 605.5h2M387 606.5h1M963 606.5h1M386 607.5h1M964 607.5h1M384 608.5h2M965 608.5h2M383 609.5h1M967 609.5h1M382 610.5h1M968 610.5h1M381 611.5h1M969 611.5h1M380 612.5h1M970 612.5h2M378 613.5h2M972 613.5h1M377 614.5h1M973 614.5h1M376 615.5h1M974 615.5h1M375 616.5h1M975 616.5h1M373 617.5h2M976 617.5h2M372 618.5h1M978 618.5h1M371 619.5h1M979 619.5h2M370 620.5h1M981 620.5h2M368 621.5h2M983 621.5h2M367 622.5h1M985 622.5h3M366 623.5h1M988 623.5h2M364 624.5h2M990 624.5h2M363 625.5h1M992 625.5h2M362 626.5h1M994 626.5h4M360 627.5h2M998 627.5h6M359 628.5h1M1004 628.5h5M358 629.5h1M1009 629.5h5M1057 629.5h11M356 630.5h2M1014 630.5h6M1052 630.5h5M1068 630.5h12M354 631.5h2M1020 631.5h5M1046 631.5h6M1080 631.5h8M352 632.5h2M1025 632.5h21M1088 632.5h5M349 633.5h3M1093 633.5h3M346 634.5h3M1096 634.5h2M344 635.5h2M1098 635.5h3M341 636.5h3M1101 636.5h3M339 637.5h2M1104 637.5h2M337 638.5h2M1106 638.5h2M335 639.5h2M1108 639.5h2M333 640.5h2M1110 640.5h2M331 641.5h2M1112 641.5h2M329 642.5h2M1114 642.5h2M327 643.5h2M1116 643.5h1M325 644.5h2M1117 644.5h2M323 645.5h2M1119 645.5h2M321 646.5h2M1121 646.5h2M320 647.5h1M1123 647.5h5M318 648.5h2M1128 648.5h8M316 649.5h2M1136 649.5h6M315 650.5h1M1142 650.5h6M313 651.5h2M1148 651.5h5M312 652.5h1M1153 652.5h3M310 653.5h2M1156 653.5h1M308 654.5h2M1157 654.5h1M307 655.5h1M1158 655.5h1M305 656.5h2M1159 656.5h1M303 657.5h2M1160 657.5h1M301 658.5h2M1161 658.5h1M299 659.5h2M1162 659.5h2M297 660.5h2M1164 660.5h1M295 661.5h2M1165 661.5h1M293 662.5h2M1166 662.5h1M288 663.5h5M1167 663.5h1M280 664.5h8M1168 664.5h1M275 665.5h5M1169 665.5h1M273 666.5h2M1170 666.5h1M271 667.5h2M1171 667.5h1M269 668.5h2M1172 668.5h2M267 669.5h2M1174 669.5h2M265 670.5h2M1176 670.5h1M263 671.5h2M1177 671.5h2M261 672.5h2M1179 672.5h1M258 673.5h3M1180 673.5h2M256 674.5h2M1182 674.5h2M254 675.5h2M1184 675.5h1M252 676.5h2M1185 676.5h2M83 677.5h5M249 677.5h3M1187 677.5h1M81 678.5h2M88 678.5h8M247 678.5h2M1188 678.5h2M79 679.5h2M96 679.5h5M245 679.5h2M1190 679.5h1M77 680.5h2M101 680.5h3M242 680.5h3M1191 680.5h2M75 681.5h2M104 681.5h2M238 681.5h4M1193 681.5h1M73 682.5h2M106 682.5h3M234 682.5h4M1194 682.5h2M71 683.5h2M109 683.5h3M230 683.5h4M1196 683.5h1M69 684.5h2M112 684.5h2M226 684.5h4M1197 684.5h1M67 685.5h2M114 685.5h26M156 685.5h10M222 685.5h4M1198 685.5h2M65 686.5h2M140 686.5h16M166 686.5h6M218 686.5h4M1200 686.5h1M63 687.5h2M172 687.5h5M214 687.5h4M1201 687.5h2M61 688.5h2M177 688.5h7M208 688.5h6M1203 688.5h1M59 689.5h2M184 689.5h8M200 689.5h8M1204 689.5h2M57 690.5h2M192 690.5h8M1206 690.5h2M55 691.5h2M1208 691.5h2M53 692.5h2M1210 692.5h2M51 693.5h2M1212 693.5h1M49 694.5h2M1213 694.5h2M47 695.5h2M1215 695.5h2M45 696.5h2M1217 696.5h2M43 697.5h2M1219 697.5h3M41 698.5h2M1222 698.5h4M39 699.5h2M1226 699.5h4M37 700.5h2M1230 700.5h4M35 701.5h2M1234 701.5h6M33 702.5h2M1240 702.5h8M31 703.5h2M1248 703.5h5M29 704.5h2M1253 704.5h3M27 705.5h2M1256 705.5h4M25 706.5h2M1260 706.5h3M23 707.5h2M1263 707.5h3M21 708.5h2M1266 708.5h3M19 709.5h2M1269 709.5h2M18 710.5h1M1271 710.5h2M16 711.5h2M1273 711.5h3M15 712.5h1M1276 712.5h2M14 713.5h1M1278 713.5h2M13 714.5h1M1280 714.5h2M12 715.5h1M1282 715.5h2M10 716.5h2M1284 716.5h1M9 717.5h1M1285 717.5h1M8 718.5h1M1286 718.5h2M7 719.5h1M1288 719.5h1M5 720.5h2M1289 720.5h1M4 721.5h1M1290 721.5h1M3 722.5h1M1291 722.5h1M1292 723.5h1M1293 724.5h1M1294 725.5h2M1296 726.5h1M1297 727.5h1M1298 728.5h1M1299 729.5h1M1300 730.5h1M1301 731.5h2M1303 732.5h1M1304 733.5h1M1305 734.5h1M1306 735.5h2M1308 736.5h1M1309 737.5h1M1310 738.5h1M1311 739.5h1M1312 740.5h2M1458 740.5h2M1314 741.5h1M1456 741.5h2M1315 742.5h2M1453 742.5h3M1317 743.5h2M1450 743.5h3M1319 744.5h2M1448 744.5h2M1321 745.5h2M1445 745.5h3M1323 746.5h2M1441 746.5h4M1325 747.5h2M1436 747.5h5M1327 748.5h2M1430 748.5h6M1329 749.5h2M1424 749.5h6M1331 750.5h2M1388 750.5h16M1416 750.5h8M1333 751.5h3M1372 751.5h16M1404 751.5h12M1336 752.5h4M1361 752.5h11M1340 753.5h3M1356 753.5h5M1343 754.5h3M1350 754.5h6M1346 755.5h4" fill="none" stroke="#0000FF" stroke-width="1"/>
<path d="M571 536.5h29M561 537.5h47M558 538.5h14M599 538.5h15M555 539.5h7M607 539.5h13M551 540.5h8M613 540.5h12M548 541.5h8M619 541.5h10M545 542.5h7M624 542.5h8M543 543.5h6M628 543.5h8M541 544.5h5M631 544.5h8M539 545.5h5M635 545.5h7M536 546.5h6M638 546.5h7M534 547.5h6M641 547.5h7M532 548.5h5M644 548.5h6M530 549.5h5M647 549.5h6M528 550.5h5M649 550.5h7M526 551.5h5M652 551.5h6M524 552.5h5M655 552.5h6M523 553.5h4M657 553.5h6M521 554.5h4M660 554.5h5M519 555.5h5M662 555.5h6M517 556.5h5M664 556.5h6M515 557.5h5M667 557.5h5M514 558.5h4M669 558.5h5M512 559.5h4M671 559.5h6M510 560.5h5M673 560.5h6M508 561.5h5M676 561.5h5M507 562.5h4M678 562.5h6M505 563.5h4M680 563.5h6M503 564.5h5M683 564.5h5M501 565.5h5M685 565.5h5M499 566.5h5M687 566.5h6M498 567.5h4M689 567.5h7M496 568.5h4M692 568.5h6M494 569.5h5M695 569.5h6M492 570.5h5M697 570.5h7M491 571.5h4M700 571.5h6M489 572.5h4M703 572.5h6M487 573.5h5M705 573.5h7M485 574.5h5M708 574.5h6M483 575.5h5M711 575.5h6M482 576.5h4M713 576.5h7M480 577.5h4M716 577.5h6M479 578.5h4M719 578.5h6M477 579.5h4M721 579.5h7M907 579.5h13M476 580.5h4M724 580.5h6M891 580.5h37M475 581.5h3M727 581.5h6M879 581.5h29M919 581.5h17M473 582.5h4M729 582.5h7M871 582.5h21M927 582.5h17M472 583.5h4M732 583.5h6M863 583.5h17M935 583.5h15M470 584.5h4M735 584.5h6M855 584.5h17M943 584.5h13M469 585.5h4M737 585.5h7M847 585.5h17M949 585.5h12M467 586.5h4M740 586.5h6M839 586.5h17M955 586.5h10M466 587.5h4M743 587.5h6M831 587.5h17M960 587.5h8M464 588.5h4M745 588.5h7M823 588.5h17M964 588.5h8M463 589.5h4M748 589.5h6M815 589.5h17M967 589.5h8M461 590.5h4M751 590.5h13M807 590.5h17M971 590.5h7M460 591.5h4M753 591.5h63M974 591.5h7M459 592.5h3M763 592.5h45M977 592.5h7M457 593.5h4M980 593.5h6M456 594.5h4M983 594.5h6M454 595.5h4M985 595.5h7M453 596.5h4M988 596.5h6M451 597.5h4M991 597.5h6M450 598.5h4M993 598.5h7M449 599.5h3M996 599.5h8M447 600.5h4M999 600.5h8M446 601.5h4M1003 601.5h7M445 602.5h3M1006 602.5h7M443 603.5h4M1009 603.5h6M442 604.5h4M1012 604.5h5M441 605.5h3M1014 605.5h6M439 606.5h4M1016 606.5h6M438 607.5h4M1019 607.5h5M437 608.5h3M1021 608.5h5M435 609.5h4M1023 609.5h6M434 610.5h4M1025 610.5h7M433 611.5h3M1028 611.5h8M431 612.5h4M1031 612.5h8M430 613.5h4M1035 613.5h7M429 614.5h3M1038 614.5h7M427 615.5h4M1041 615.5h7M426 616.5h4M1044 616.5h8M425 617.5h3M1047 617.5h8M423 618.5h4M1051 618.5h7M422 619.5h4M1054 619.5h8M421 620.5h3M1057 620.5h11M419 621.5h4M1061 621.5h12M418 622.5h4M1067 622.5h11M417 623.5h3M1072 623.5h12M415 624.5h4M1077 624.5h12M414 625.5h4M1083 625.5h11M413 626.5h3M1088 626.5h10M411 627.5h4M1093 627.5h9M410 628.5h4M1097 628.5h9M409 629.5h3M1101 629.5h9M407 630.5h4M1105 630.5h11M406 631.5h4M1109 631.5h12M405 632.5h3M1115 632.5h13M403 633.5h4M1120 633.5h16M402 634.5h4M1127 634.5h15M400 635.5h4M1135 635.5h13M398 636.5h5M1141 636.5h12M396 637.5h5M1147 637.5h11M395 638.5h4M1152 638.5h10M393 639.5h4M1157 639.5h9M391 640.5h5M1161 640.5h9M389 641.5h5M1165 641.5h8M387 642.5h5M1169 642.5h7M386 643.5h4M1172 643.5h6M384 644.5h4M1175 644.5h6M382 645.5h5M1177 645.5h7M380 646.5h5M1180 646.5h6M378 647.5h5M1183 647.5h6M376 648.5h5M1185 648.5h7M374 649.5h5M1188 649.5h6M372 650.5h5M1191 650.5h6M370 651.5h5M1193 651.5h7M368 652.5h5M1196 652.5h6M366 653.5h5M1199 653.5h6M364 654.5h5M1201 654.5h6M362 655.5h5M1204 655.5h5M360 656.5h5M1206 656.5h5M358 657.5h5M1208 657.5h5M356 658.5h5M1210 658.5h5M353 659.5h6M1212 659.5h5M351 660.5h6M1214 660.5h5M348 661.5h6M1216 661.5h5M345 662.5h7M1218 662.5h5M343 663.5h6M1220 663.5h5M340 664.5h6M1222 664.5h5M337 665.5h7M1224 665.5h5M335 666.5h6M1226 666.5h5M332 667.5h6M1228 667.5h5M329 668.5h7M1230 668.5h5M327 669.5h6M1232 669.5h5M324 670.5h6M1234 670.5h6M321 671.5h7M1236 671.5h6M318 672.5h7M1239 672.5h6M315 673.5h7M1241 673.5h7M311 674.5h8M1244 674.5h6M308 675.5h8M1247 675.5h6M304 676.5h8M1249 676.5h6M299 677.5h10M1252 677.5h5M293 678.5h12M1254 678.5h6M287 679.5h13M1256 679.5h6M279 680.5h15M1259 680.5h5M271 681.5h17M1261 681.5h5M263 682.5h17M1263 682.5h6M255 683.5h17M1265 683.5h6M187 684.5h33M247 684.5h17M1268 684.5h5M160 685.5h96M1270 685.5h6M155 686.5h33M219 686.5h29M1272 686.5h6M149 687.5h12M1275 687.5h5M145 688.5h11M1277 688.5h5M142 689.5h8M1279 689.5h5M139 690.5h7M1281 690.5h5M135 691.5h8M1283 691.5h5M132 692.5h8M1285 692.5h5M129 693.5h7M1287 693.5h5M125 694.5h8M1289 694.5h4M121 695.5h9M1291 695.5h4M117 696.5h9M1292 696.5h5M113 697.5h9M1294 697.5h5M110 698.5h8M1296 698.5h5M107 699.5h7M1298 699.5h5M103 700.5h8M1300 700.5h5M100 701.5h8M1302 701.5h5M97 702.5h7M1304 702.5h5M95 703.5h6M1306 703.5h5M92 704.5h6M1308 704.5h5M89 705.5h7M1310 705.5h5M87 706.5h6M1312 706.5h5M84 707.5h6M1314 707.5h5M81 708.5h7M1316 708.5h5M78 709.5h7M1318 709.5h5M75 710.5h7M1320 710.5h5M71 711.5h8M1322 711.5h5M68 712.5h8M1324 712.5h5M65 713.5h7M1326 713.5h5M61 714.5h8M1328 714.5h5M57 715.5h9M1330 715.5h5M53 716.5h9M1332 716.5h5M47 717.5h11M1334 717.5h5M39 718.5h15M1336 718.5h5M32 719.5h16M1338 719.5h5M27 720.5h13M1340 720.5h5M21 721.5h12M1342 721.5h5M2 722.5h26M1344 722.5h5M2 723.5h20M1346 723.5h6M1348 724.5h6M1351 725.5h6M1353 726.5h7M1356 727.5h6M1359 728.5h6M1361 729.5h7M1364 730.5h8M1367 731.5h8M1371 732.5h7M1374 733.5h7M1377 734.5h7M1380 735.5h8M1383 736.5h8M1387 737.5h7M1390 738.5h7M1393 739.5h7M1396 740.5h6M1399 741.5h6M1401 742.5h7M1404 743.5h6M1407 744.5h9M1409 745.5h15M1415 746.5h17M1423 747.5h17M1431 748.5h29M1439 749.5h21" fill="none" stroke="#FF0000" stroke-width="1"/>
</g>
<g shape-rendering="crispEdges" fill="#000">
<rect x="2" y="2" width="1869" height="1"/>
<rect x="2" y="513" width="1869" height="1"/>
<rect x="2" y="515" width="1869" height="1"/>
<rect x="2" y="770" width="1869" height="1"/>
<rect x="2" y="2" width="1" height="512"/><rect x="2" y="515" width="1" height="256"/>
<rect x="1870" y="2" width="1" height="512"/><rect x="1870" y="515" width="1" height="256"/>
<rect x="1871" y="15" width="2" height="1"/>
<rect x="1871" y="48" width="2" height="1"/>
<rect x="1871" y="81" width="2" height="1"/>
<rect x="1871" y="114" width="2" height="1"/>
<rect x="1871" y="147" width="2" height="1"/>
<rect x="1871" y="180" width="2" height="1"/>
<rect x="1871" y="213" width="2" height="1"/>
<rect x="1871" y="246" width="2" height="1"/>
<rect x="1871" y="279" width="2" height="1"/>
<rect x="1871" y="312" width="2" height="1"/>
<rect x="1871" y="345" width="2" height="1"/>
<rect x="1871" y="378" width="2" height="1"/>
<rect x="1871" y="411" width="2" height="1"/>
<rect x="1871" y="444" width="2" height="1"/>
<rect x="1871" y="477" width="2" height="1"/>
<rect x="1871" y="510" width="2" height="1"/>
<rect x="1871" y="517" width="1" height="1"/><rect x="1871" y="711" width="1" height="1"/><rect x="1871" y="769" width="1" height="1"/>
<rect x="3" y="771" width="1" height="3"/>
<rect x="67" y="771" width="1" height="3"/>
<rect x="131" y="771" width="1" height="3"/>
<rect x="195" y="771" width="1" height="3"/>
<rect x="259" y="771" width="1" height="3"/>
<rect x="323" y="771" width="1" height="3"/>
<rect x="387" y="771" width="1" height="3"/>
<rect x="451" y="771" width="1" height="3"/>
<rect x="515" y="771" width="1" height="3"/>
<rect x="579" y="771" width="1" height="3"/>
<rect x="643" y="771" width="1" height="3"/>
<rect x="707" y="771" width="1" height="3"/>
<rect x="771" y="771" width="1" height="3"/>
<rect x="835" y="771" width="1" height="3"/>
<rect x="899" y="771" width="1" height="3"/>
<rect x="963" y="771" width="1" height="3"/>
<rect x="1027" y="771" width="1" height="3"/>
<rect x="1091" y="771" width="1" height="3"/>
<rect x="1155" y="771" width="1" height="3"/>
<rect x="1219" y="771" width="1" height="3"/>
<rect x="1283" y="771" width="1" height="3"/>
<rect x="1347" y="771" width="1" height="3"/>
<rect x="1411" y="771" width="1" height="3"/>
</g>
<text x="1876.5" y="19" textLength="32.5" lengthAdjust="spacingAndGlyphs" fill="#000" stroke="#000" stroke-width="0.1">115.105</text>
<text x="1876.5" y="52" textLength="32.5" lengthAdjust="spacingAndGlyphs" fill="#000" stroke="#000" stroke-width="0.1">114.810</text>
<text x="1876.5" y="85" textLength="32.5" lengthAdjust="spacingAndGlyphs" fill="#000" stroke="#000" stroke-width="0.1">114.510</text>
<text x="1876.5" y="118" textLength="32.5" lengthAdjust="spacingAndGlyphs" fill="#000" stroke="#000" stroke-width="0.1">114.215</text>
<text x="1876.5" y="151" textLength="32.5" lengthAdjust="spacingAndGlyphs" fill="#000" stroke="#000" stroke-width="0.1">113.920</text>
<text x="1876.5" y="184" textLength="32.5" lengthAdjust="spacingAndGlyphs" fill="#000" stroke="#000" stroke-width="0.1">113.625</text>
<text x="1876.5" y="217" textLength="32.5" lengthAdjust="spacingAndGlyphs" fill="#000" stroke="#000" stroke-width="0.1">113.325</text>
<text x="1876.5" y="250" textLength="32.5" lengthAdjust="spacingAndGlyphs" fill="#000" stroke="#000" stroke-width="0.1">113.030</text>
<text x="1876.5" y="283" textLength="32.5" lengthAdjust="spacingAndGlyphs" fill="#000" stroke="#000" stroke-width="0.1">112.735</text>
<text x="1876.5" y="316" textLength="32.5" lengthAdjust="spacingAndGlyphs" fill="#000" stroke="#000" stroke-width="0.1">112.440</text>
<text x="1876.5" y="349" textLength="32.5" lengthAdjust="spacingAndGlyphs" fill="#000" stroke="#000" stroke-width="0.1">112.140</text>
<text x="1876.5" y="382" textLength="32.5" lengthAdjust="spacingAndGlyphs" fill="#000" stroke="#000" stroke-width="0.1">111.845</text>
<text x="1876.5" y="415" textLength="32.5" lengthAdjust="spacingAndGlyphs" fill="#000" stroke="#000" stroke-width="0.1">111.550</text>
<text x="1876.5" y="448" textLength="32.5" lengthAdjust="spacingAndGlyphs" fill="#000" stroke="#000" stroke-width="0.1">111.255</text>
<text x="1876.5" y="481" textLength="32.5" lengthAdjust="spacingAndGlyphs" fill="#000" stroke="#000" stroke-width="0.1">110.955</text>
<text x="1876.5" y="514" textLength="32.5" lengthAdjust="spacingAndGlyphs" fill="#000" stroke="#000" stroke-width="0.1">110.660</text>
<text x="1874" y="526" textLength="28" lengthAdjust="spacingAndGlyphs" fill="#000" stroke="#000" stroke-width="0.1">0.5591</text>
<text x="1874" y="715" textLength="18" lengthAdjust="spacingAndGlyphs" fill="#000" stroke="#000" stroke-width="0.1">0.00</text>
<text x="1874.3" y="767" textLength="30.7" lengthAdjust="spacingAndGlyphs" fill="#000" stroke="#000" stroke-width="0.1">-0.1683</text>
<rect x="1872" y="66" width="41" height="11" fill="#FF0000" shape-rendering="crispEdges"/>
<text x="1876.5" y="75" textLength="32.5" lengthAdjust="spacingAndGlyphs" fill="#FFFFFF" stroke="#FFFFFF" stroke-width="0.18">114.596</text>
<rect x="1872" y="111" width="41" height="11" fill="#FF0000" shape-rendering="crispEdges"/>
<text x="1876.5" y="120" textLength="32.5" lengthAdjust="spacingAndGlyphs" fill="#FFFFFF" stroke="#FFFFFF" stroke-width="0.18">114.193</text>
<rect x="1872" y="196" width="41" height="11" fill="#FF0000" shape-rendering="crispEdges"/>
<text x="1876.5" y="205" textLength="32.5" lengthAdjust="spacingAndGlyphs" fill="#FFFFFF" stroke="#FFFFFF" stroke-width="0.18">113.423</text>
<rect x="1872" y="235" width="41" height="11" fill="#FF0000" shape-rendering="crispEdges"/>
<text x="1876.5" y="244" textLength="32.5" lengthAdjust="spacingAndGlyphs" fill="#FFFFFF" stroke="#FFFFFF" stroke-width="0.18">113.078</text>
<rect x="1872" y="152" width="41" height="11" fill="#000" shape-rendering="crispEdges"/>
<text x="1876.5" y="161" textLength="32.5" lengthAdjust="spacingAndGlyphs" fill="#FFFFFF" stroke="#FFFFFF" stroke-width="0.18">113.831</text>
<text x="7.5" y="14" textLength="50" lengthAdjust="spacingAndGlyphs" fill="#000" stroke="#000" stroke-width="0.1">USDJPY,H4</text>
<text x="64.3" y="14" textLength="32" lengthAdjust="spacingAndGlyphs" fill="#000" stroke="#000" stroke-width="0.1">113.721</text>
<text x="100.5" y="14" textLength="32" lengthAdjust="spacingAndGlyphs" fill="#000" stroke="#000" stroke-width="0.1">113.846</text>
<text x="136.6" y="14" textLength="32" lengthAdjust="spacingAndGlyphs" fill="#000" stroke="#000" stroke-width="0.1">113.703</text>
<text x="172.8" y="14" textLength="32" lengthAdjust="spacingAndGlyphs" fill="#000" stroke="#000" stroke-width="0.1">113.831</text>
<text x="7.5" y="528" textLength="65" lengthAdjust="spacingAndGlyphs" fill="#000" stroke="#000" stroke-width="0.1">MACD(12,26,9)</text>
<text x="76.1" y="528" textLength="30.7" lengthAdjust="spacingAndGlyphs" fill="#000" stroke="#000" stroke-width="0.1">-0.0843</text>
<text x="110.2" y="528" textLength="30.5" lengthAdjust="spacingAndGlyphs" fill="#000" stroke="#000" stroke-width="0.1">-0.1102</text>
<text x="144.4" y="528" textLength="26.7" lengthAdjust="spacingAndGlyphs" fill="#000" stroke="#000" stroke-width="0.1">0.0337</text>
<text x="175.1" y="528" textLength="27.6" lengthAdjust="spacingAndGlyphs" fill="#000" stroke="#000" stroke-width="0.1">0.0000</text>
<text x="2.2" y="783" textLength="45.3" lengthAdjust="spacingAndGlyphs" fill="#000" stroke="#000" stroke-width="0.1">5 Oct 2021</text>
<text x="66.1" y="783" textLength="48.4" lengthAdjust="spacingAndGlyphs" fill="#000" stroke="#000" stroke-width="0.1">6 Oct 00:00</text>
<text x="130.1" y="783" textLength="48.4" lengthAdjust="spacingAndGlyphs" fill="#000" stroke="#000" stroke-width="0.1">6 Oct 16:00</text>
<text x="194.1" y="783" textLength="48.4" lengthAdjust="spacingAndGlyphs" fill="#000" stroke="#000" stroke-width="0.1">7 Oct 08:00</text>
<text x="258.1" y="783" textLength="48.4" lengthAdjust="spacingAndGlyphs" fill="#000" stroke="#000" stroke-width="0.1">8 Oct 00:00</text>
<text x="322.1" y="783" textLength="48.4" lengthAdjust="spacingAndGlyphs" fill="#000" stroke="#000" stroke-width="0.1">8 Oct 16:00</text>
<text x="387" y="783" textLength="53" lengthAdjust="spacingAndGlyphs" fill="#000" stroke="#000" stroke-width="0.1">11 Oct 04:00</text>
<text x="451" y="783" textLength="53" lengthAdjust="spacingAndGlyphs" fill="#000" stroke="#000" stroke-width="0.1">11 Oct 20:00</text>
<text x="515" y="783" textLength="53" lengthAdjust="spacingAndGlyphs" fill="#000" stroke="#000" stroke-width="0.1">12 Oct 12:00</text>
<text x="579" y="783" textLength="53" lengthAdjust="spacingAndGlyphs" fill="#000" stroke="#000" stroke-width="0.1">13 Oct 04:00</text>
<text x="643" y="783" textLength="53" lengthAdjust="spacingAndGlyphs" fill="#000" stroke="#000" stroke-width="0.1">13 Oct 20:00</text>
<text x="707" y="783" textLength="53" lengthAdjust="spacingAndGlyphs" fill="#000" stroke="#000" stroke-width="0.1">14 Oct 12:00</text>
<text x="771" y="783" textLength="53" lengthAdjust="spacingAndGlyphs" fill="#000" stroke="#000" stroke-width="0.1">15 Oct 04:00</text>
<text x="835" y="783" textLength="53" lengthAdjust="spacingAndGlyphs" fill="#000" stroke="#000" stroke-width="0.1">15 Oct 20:00</text>
<text x="899" y="783" textLength="53" lengthAdjust="spacingAndGlyphs" fill="#000" stroke="#000" stroke-width="0.1">18 Oct 08:00</text>
<text x="963" y="783" textLength="53" lengthAdjust="spacingAndGlyphs" fill="#000" stroke="#000" stroke-width="0.1">19 Oct 00:00</text>
<text x="1027" y="783" textLength="53" lengthAdjust="spacingAndGlyphs" fill="#000" stroke="#000" stroke-width="0.1">19 Oct 16:00</text>
<text x="1091" y="783" textLength="53" lengthAdjust="spacingAndGlyphs" fill="#000" stroke="#000" stroke-width="0.1">20 Oct 08:00</text>
<text x="1155" y="783" textLength="53" lengthAdjust="spacingAndGlyphs" fill="#000" stroke="#000" stroke-width="0.1">21 Oct 00:00</text>
<text x="1219" y="783" textLength="53" lengthAdjust="spacingAndGlyphs" fill="#000" stroke="#000" stroke-width="0.1">21 Oct 16:00</text>
<text x="1283" y="783" textLength="53" lengthAdjust="spacingAndGlyphs" fill="#000" stroke="#000" stroke-width="0.1">22 Oct 08:00</text>
<text x="1347" y="783" textLength="53" lengthAdjust="spacingAndGlyphs" fill="#000" stroke="#000" stroke-width="0.1">24 Oct 22:06</text>
<text x="1411" y="783" textLength="53" lengthAdjust="spacingAndGlyphs" fill="#000" stroke="#000" stroke-width="0.1">25 Oct 12:00</text>
</svg>
</body></html>
